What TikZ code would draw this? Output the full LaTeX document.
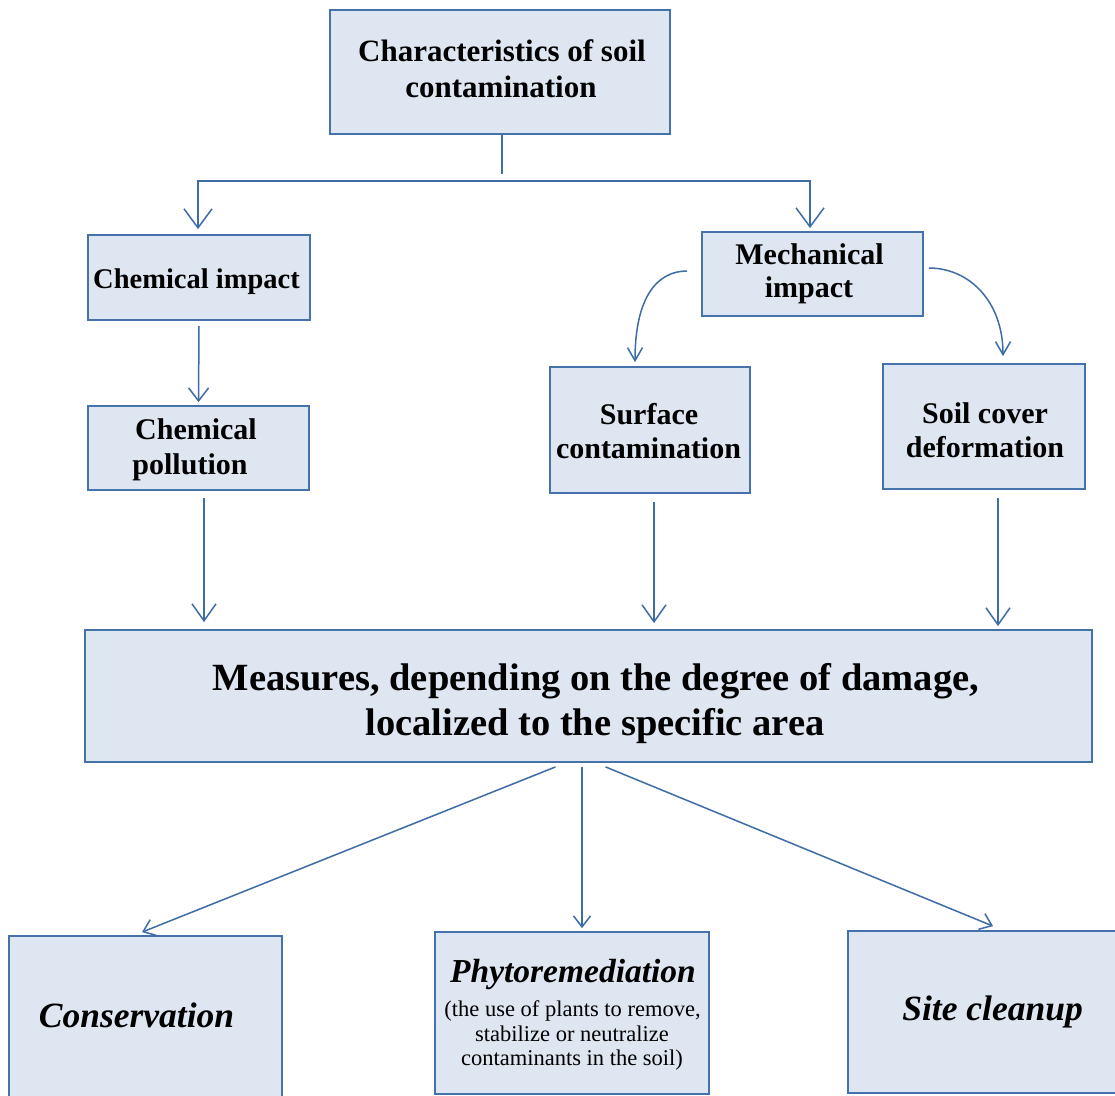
\documentclass[tikz,border=0pt]{standalone}
\usepackage{fontspec}
\setmainfont{Liberation Serif}
\usetikzlibrary{arrows.meta}
\definecolor{boxfill}{RGB}{222,230,241}
\definecolor{boxline}{RGB}{70,114,172}
\definecolor{connc}{RGB}{62,108,166}
\begin{document}
\begin{tikzpicture}[x=1pt,y=-1pt,
  box/.style={draw=boxline, fill=boxfill, line width=1.8pt, inner sep=0pt},
  txt/.style={inner sep=0pt, anchor=base, text=black},
  t31/.style={txt, font=\fontsize{31}{36}\selectfont\bfseries},
  t30/.style={txt, font=\fontsize{30}{35}\selectfont\bfseries},
  t28/.style={txt, font=\fontsize{28.5}{33}\selectfont\bfseries},
  t38/.style={txt, font=\fontsize{38.5}{45}\selectfont\bfseries},
  tbig/.style={txt, font=\fontsize{35.5}{40}\selectfont\bfseries\itshape},
  tphy/.style={txt, font=\fontsize{33.5}{38}\selectfont\bfseries\itshape},
  tsub/.style={txt, font=\fontsize{22.5}{25}\selectfont},
  conn/.style={draw=connc, line width=1.5pt},
  aL/.style={-{Straight Barb[length=19pt,width=28pt]}},
  aM/.style={-{Straight Barb[length=17pt,width=24pt]}},
  aS/.style={-{Straight Barb[length=13pt,width=20pt]}},
  aC/.style={-{Straight Barb[length=13pt,width=15pt]}},
  aB/.style={-{Straight Barb[length=11pt,width=17pt]}}
]
\fill[white] (0,0) rectangle (1115,1095);
\useasboundingbox (0,0) rectangle (1115,1095);

% boxes
\node[box, minimum width=340pt, minimum height=124pt] (top)   at (500,72)   {};
\node[box, minimum width=222pt, minimum height=85pt]  (chemI) at (199,277.5) {};
\node[box, minimum width=221pt, minimum height=84pt]  (chemP) at (198.5,448) {};
\node[box, minimum width=221pt, minimum height=84pt]  (mech)  at (812.5,274) {};
\node[box, minimum width=200pt, minimum height=126pt] (surf)  at (650,430)  {};
\node[box, minimum width=202pt, minimum height=125pt] (soil)  at (984,426.5) {};
\node[box, minimum width=1007pt, minimum height=132pt] (meas) at (588.5,696) {};
\node[box, minimum width=273pt, minimum height=164pt] (cons)  at (145.5,1018) {};
\node[box, minimum width=274pt, minimum height=162pt] (phyto) at (572,1013) {};
\node[box, minimum width=288pt, minimum height=162pt] (site)  at (992,1012) {};

% texts
\node[t31] (topA) at (502,61) {Characteristics of soil};
\node[t31] (topB) at (501,97) {contamination};
\node[t28] (chemIt) at (196.5,288) {Chemical impact};
\node[t30] (chemPa) at (196,439) {Chemical};
\node[t30] (chemPb) at (190,474) {pollution};
\node[t30] (mechA) at (809.5,264) {Mechanical};
\node[t30] (mechB) at (809,297) {impact};
\node[t30] (surfA) at (649,424) {Surface};
\node[t30] (surfB) at (648.5,458) {contamination};
\node[t30] (soilA) at (985,423) {Soil cover};
\node[t30] (soilB) at (985,457) {deformation};
\node[t38] (measA) at (596,690) {Measures, depending on the degree of damage,};
\node[t38] (measB) at (595,735) {localized to the specific area};
\node[tbig] (consT) at (136.5,1027) {Conservation};
\node[tphy] (phyT) at (573,982) {Phytoremediation};
\node[tsub] (phyA) at (572.5,1016) {(the use of plants to remove,};
\node[tsub] (phyB) at (572,1041) {stabilize or neutralize};
\node[tsub] (phyC) at (572,1065) {contaminants in the soil)};
\node[tbig] (siteT) at (992.5,1020) {Site cleanup};

% connectors
\coordinate (junc) at (502,174);
\coordinate (bar) at (500,181);
\draw[conn] ([xshift=2pt]top.south) -- (junc);
\draw[conn, {Straight Barb[length=19pt,width=28pt]}-{Straight Barb[length=19pt,width=28pt]}]
  ([xshift=-1pt,yshift=5pt]chemI.north) -- ([xshift=-1pt]chemI.north |- bar)
  -- ([xshift=-2.5pt]mech.north |- bar) -- ([xshift=-2.5pt,yshift=3pt]mech.north);
\draw[conn, aS] ([yshift=-5pt]chemI.south) -- ([yshift=3pt]chemP.north);
\draw[conn, aC] ([xshift=-14pt,yshift=3pt]mech.west) .. controls +(-30,0) and +(0,-65) .. ([xshift=-15pt,yshift=4pt]surf.north);
\draw[conn, aC] ([xshift=5pt,yshift=6pt]mech.east) .. controls +(40,0) and +(0,-55) .. ([xshift=19pt,yshift=7pt]soil.north);
\draw[conn, aM, shorten <=7pt, shorten >=7pt] ([xshift=5.5pt]chemP.south) -- ([xshift=5.5pt]chemP.south |- meas.north);
\draw[conn, aM, shorten <=8pt, shorten >=6pt] ([xshift=4pt]surf.south) -- ([xshift=4pt]surf.south |- meas.north);
\draw[conn, aM, shorten <=8pt, shorten >=3pt] ([xshift=14pt]soil.south) -- ([xshift=14pt]soil.south |- meas.north);
\draw[conn, aB] ([xshift=-33pt,yshift=-4pt]meas.south) -- ([xshift=-3.5pt,yshift=3pt]cons.north);
\draw[conn, aB] ([xshift=-6.5pt,yshift=-4pt]meas.south) -- ([xshift=10pt,yshift=3pt]phyto.north);
\draw[conn, aB] ([xshift=17pt,yshift=-4pt]meas.south) -- ([xshift=1pt,yshift=4pt]site.north);
\end{tikzpicture}
\end{document}
